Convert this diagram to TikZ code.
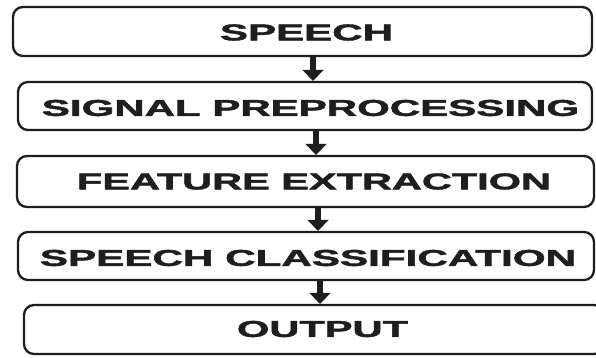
\documentclass[tikz,border=0pt]{standalone}
\usepackage{fontspec}
\setmainfont[BoldFeatures={FakeBold=1.6}]{Liberation Sans}
\usetikzlibrary{arrows.meta}
\definecolor{ink}{HTML}{1E1E1E}
\tikzset{
  stage/.style={draw=ink, line width=2.3pt, rounded corners=10pt,
    rectangle, inner sep=0pt, fill=white},
  caption/.style={inner sep=0pt, text=ink},
  flow/.style={draw=ink, line width=5.5pt,
    -{Triangle[width=21pt,length=11pt]}},
}
% caption text stretched to a given width and cap height
\newcommand{\stagetext}[2]{\resizebox{#1pt}{16pt}{\bfseries #2}}
\begin{document}
\begin{tikzpicture}[x=1pt,y=-1pt]
  \fill[white] (0,0) rectangle (596,358);
  \useasboundingbox (0,0) rectangle (596,358);
  \clip (0,0) rectangle (596,358);

  % stage boxes
  \node[stage, minimum width=579pt, minimum height=49pt] (b1) at (302.5,31.5) {};
  \node[stage, minimum width=574pt, minimum height=48pt] (b2) at (305,106) {};
  \node[stage, minimum width=577pt, minimum height=51pt] (b3) at (305.5,181.5) {};
  \node[stage, minimum width=576pt, minimum height=48pt] (b4) at (306,256) {};
  \node[stage, minimum width=580pt, minimum height=49pt] (b5) at (314,329.5) {};

  % captions
  \node[caption] (t1) at (306.5,32.5) {\stagetext{173}{SPEECH}};
  \node[caption] (t2) at (310.5,108) {\stagetext{537}{SIGNAL PREPROCESSING}};
  \node[caption] (t3) at (314,181.5) {\stagetext{474}{FEATURE EXTRACTION}};
  \node[caption] (t4) at (308,258) {\stagetext{536}{SPEECH CLASSIFICATION}};
  \node[caption] (t5) at (322.5,329) {\stagetext{171}{OUTPUT}};

  % arrow columns
  \coordinate (a1) at (313,0);
  \coordinate (a2) at (316,0);
  \coordinate (a3) at (318,0);
  \coordinate (a4) at (320,0);

  % flow arrows
  \draw[flow] (b1.south -| a1) -- (b2.north -| a1);
  \draw[flow] (b2.south -| a2) -- (b3.north -| a2);
  \draw[flow] (b3.south -| a3) -- (b4.north -| a3);
  \draw[flow] (b4.south -| a4) -- (b5.north -| a4);
\end{tikzpicture}
\end{document}
